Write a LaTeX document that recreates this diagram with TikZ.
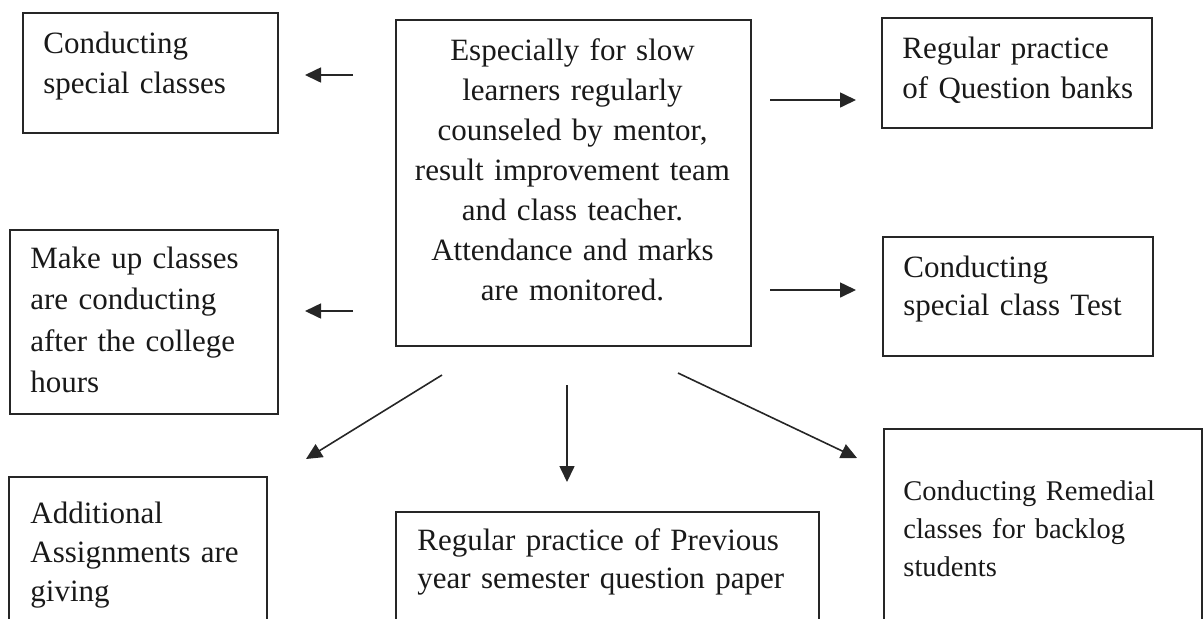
\documentclass[tikz,border=0pt]{standalone}
\usepackage{fontspec}
\setmainfont{Liberation Serif}
\usetikzlibrary{arrows.meta,calc}
\begin{document}
\begin{tikzpicture}[x=0.5pt,y=-0.5pt,
  box/.style={draw=black!85,line width=0.9pt,rectangle,inner sep=0pt,anchor=north west},
  txt/.style={inner sep=0pt,anchor=base west,align=left,text width=220pt,text=black!90},
  fnt/.style={font=\fontsize{15.5pt}{#1}\selectfont},
  arr/.style={draw=black!85,line width=0.8pt,-{Triangle[length=8pt,width=7.5pt]}}]
\useasboundingbox (0,0) rectangle (1203,618);
\clip (0,0) rectangle (1203,618);
% boxes
\node[box,minimum width=127.5pt,minimum height=60pt] (A) at (22,12) {};
\node[box,minimum width=134pt,minimum height=92pt] (M) at (9,229) {};
\node[box,minimum width=129pt,minimum height=90pt] (D) at (8,476) {};
\node[box,minimum width=177.5pt,minimum height=163pt] (C) at (395,19) {};
\node[box,minimum width=211.5pt,minimum height=70pt] (P) at (395,511) {};
\node[box,minimum width=135pt,minimum height=55pt] (Q) at (881,17) {};
\node[box,minimum width=135pt,minimum height=59.5pt] (T) at (882,236) {};
\node[box,minimum width=159pt,minimum height=110pt] (R) at (883,428) {};
% texts
\node[txt,fnt=20pt] (At) at (43,53) {Conducting\\special classes};
\node[txt,fnt=20.8pt] (Mt) at (30,268) {Make up classes\\are conducting\\after the college\\hours};
\node[txt,fnt=19.5pt] (Dt) at (30,523) {Additional\\Assignments are\\giving};
\node[inner sep=0pt,anchor=base,align=center,text width=177.5pt,text=black!90,fnt=20pt] (Ct) at (572.5,60)
  {Especially for slow\\learners regularly\\counseled by mentor,\\result improvement team\\and class teacher.\\Attendance and marks\\are monitored.};
\node[txt,fnt=19pt] (Pt) at (417,550) {Regular practice of Previous\\year semester question paper};
\node[txt,fnt=20pt] (Qt) at (902,58) {Regular practice\\of Question banks};
\node[txt,fnt=19pt] (Tt) at (903,277) {Conducting\\special class Test};
\node[txt,font=\fontsize{14.25pt}{19pt}\selectfont] (Rt) at (903,500) {Conducting Remedial\\classes for backlog\\students};
% connector ends
\coordinate (l1s) at (353,75);  \coordinate (l1e) at (305,75);
\coordinate (l2s) at (353,311); \coordinate (l2e) at (305,311);
\coordinate (r1s) at (770,100); \coordinate (r1e) at (856,100);
\coordinate (r2s) at (770,290); \coordinate (r2e) at (856,290);
\coordinate (dls) at (442,375); \coordinate (dle) at (306,459);
\coordinate (dns) at (567,385); \coordinate (dne) at (567,482);
\coordinate (drs) at (678,373); \coordinate (dre) at (857,458);
\draw[arr] (l1s) -- (l1e);
\draw[arr] (l2s) -- (l2e);
\draw[arr] (r1s) -- (r1e);
\draw[arr] (r2s) -- (r2e);
\draw[arr] (dls) -- (dle);
\draw[arr] (dns) -- (dne);
\draw[arr] (drs) -- (dre);
\end{tikzpicture}
\end{document}
